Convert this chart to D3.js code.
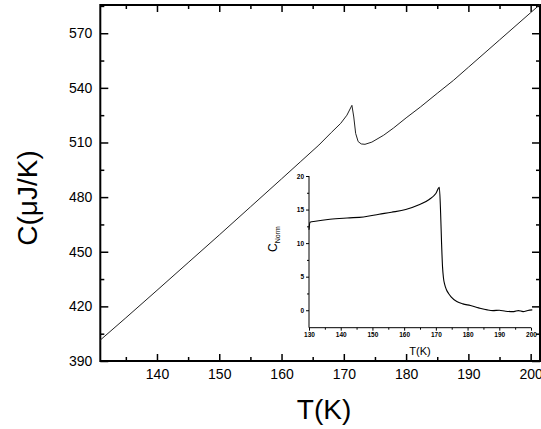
<!DOCTYPE html>
<html><head><meta charset="utf-8">
<script src="https://cdn.jsdelivr.net/npm/d3@7"></script>
<style>
body{margin:0;background:#fff;}
svg{display:block;font-family:"Liberation Sans",Arial,sans-serif;}
</style></head>
<body><svg id="c" width="541" height="429"></svg>
<script>
// Main curve: temperature (K) and heat capacity (µJ/K)
const mainT = [130.9,135,140,145,150,155,160,163,166,168,169.5,170.5,171.3,171.6,171.9,172.3,172.8,173.4,174.5,176.4,178,180,182.3,185,187.6,190,195,200,201.5];
const mainC = [401.5,413.7,428.8,444,459.2,474.6,490,499.3,508.6,515.5,520.5,525,530.4,524,515,510.5,509.2,509,510.2,514,518,523.5,529.5,537,544.1,551.3,566.3,581.3,585.8];
// Inset curve: normalised C
const insetT = [130,130.3,132,136.6,142,147.2,152.1,156,160.5,164.7,167.9,170.0,171.1,171.5,171.8,172.1,172.4,172.8,173.3,174,174.8,176.6,178.5,180.9,183.5,186.2,188,190,192,194.6,196,197.5,199,200.4];
const insetC = [12.0,13.1,13.25,13.55,13.75,13.9,14.3,14.6,15.0,15.7,16.5,17.4,18.3,14.5,10.0,6.5,4.8,3.8,3.1,2.5,2.0,1.3,0.95,0.7,0.35,0.05,-0.05,0.0,-0.15,-0.2,-0.05,-0.2,-0.05,0.05];
const xTicks = [140,150,160,170,180,190,200];
const xMinor = [135,145,155,165,175,185,195];
const yTicks = [390,420,450,480,510,540,570];
const yMinor = [405,435,465,495,525,555,585];
const insetXTicks = [130,140,150,160,170,180,190,200];
const insetXMinor = [135,145,155,165,175,185,195];
const insetYTicks = [0,5,10,15,20];
const insetYMinor = [2.5,7.5,12.5,17.5];

const svg = d3.select("#c");
const L=100.3, R=540, T=5, B=361;
const x = d3.scaleLinear().domain([130.9,201.5]).range([L,R]);
const y = d3.scaleLinear().domain([390,585.5]).range([B,T]);

function styleAxis(g){ g.select(".domain").remove(); g.selectAll("line").attr("stroke","#000").attr("stroke-width",1.5); }

// bottom
svg.append("g").attr("transform",`translate(0,${B})`)
  .call(d3.axisBottom(x).tickValues(xTicks).tickSize(-7).tickPadding(8).tickFormat(d3.format("d")))
  .call(styleAxis).selectAll("text").attr("font-size",14).attr("font-family","Liberation Sans, Arial").attr("fill","#000");
svg.append("g").attr("transform",`translate(0,${B})`)
  .call(d3.axisBottom(x).tickValues(xMinor).tickSize(-4).tickFormat(""))
  .call(styleAxis);
// top
svg.append("g").attr("transform",`translate(0,${T})`)
  .call(d3.axisTop(x).tickValues(xTicks).tickSize(-7).tickFormat(""))
  .call(styleAxis);
svg.append("g").attr("transform",`translate(0,${T})`)
  .call(d3.axisTop(x).tickValues(xMinor).tickSize(-4).tickFormat(""))
  .call(styleAxis);
// left
svg.append("g").attr("transform",`translate(${L},0)`)
  .call(d3.axisLeft(y).tickValues(yTicks).tickSize(-8).tickPadding(8).tickFormat(d3.format("d")))
  .call(styleAxis).selectAll("text").attr("font-size",14).attr("font-family","Liberation Sans, Arial").attr("fill","#000");
svg.append("g").attr("transform",`translate(${L},0)`)
  .call(d3.axisLeft(y).tickValues(yMinor).tickSize(-4).tickFormat(""))
  .call(styleAxis);
// right
svg.append("g").attr("transform",`translate(${R},0)`)
  .call(d3.axisRight(y).tickValues(yTicks).tickSize(-8).tickFormat(""))
  .call(styleAxis);
svg.append("g").attr("transform",`translate(${R},0)`)
  .call(d3.axisRight(y).tickValues(yMinor).tickSize(-4).tickFormat(""))
  .call(styleAxis);

// frame
svg.append("rect").attr("x",L).attr("y",T).attr("width",R-L).attr("height",B-T)
  .attr("fill","none").attr("stroke","#000").attr("stroke-width",2);

// main line
const mainData = mainT.map((t,i)=>[t,mainC[i]]);
svg.append("path").datum(mainData)
  .attr("d", d3.line().x(d=>x(d[0])).y(d=>y(d[1])))
  .attr("fill","none").attr("stroke","#222").attr("stroke-width",1);

// axis titles
svg.append("text").attr("x",324).attr("y",419).attr("text-anchor","middle")
  .attr("font-size",28).text("T(K)");
svg.append("text").attr("transform","translate(37,198) rotate(-90)").attr("text-anchor","middle")
  .attr("font-size",28).text("C(μJ/K)");

// inset
const iL=309, iR=531, iT=176, iB=327.7;
const ix = d3.scaleLinear().domain([130,200]).range([iL,iR]);
const iy = d3.scaleLinear().domain([-2.6,20]).range([iB,iT]);
const ig = svg.append("g");
function styleInset(g){ g.select(".domain").remove(); g.selectAll("line").attr("stroke","#000").attr("stroke-width",1); }
ig.append("g").attr("transform",`translate(0,${iB})`)
  .call(d3.axisBottom(ix).tickValues(insetXTicks).tickSize(3).tickPadding(2).tickFormat(d3.format("d")))
  .call(styleInset).selectAll("text").attr("font-size",6.5).attr("font-weight","bold").attr("font-family","Liberation Sans, Arial").attr("fill","#000");
ig.append("g").attr("transform",`translate(0,${iB})`)
  .call(d3.axisBottom(ix).tickValues(insetXMinor).tickSize(2).tickFormat(""))
  .call(styleInset);
ig.append("g").attr("transform",`translate(${iL},0)`)
  .call(d3.axisLeft(iy).tickValues(insetYTicks).tickSize(3).tickPadding(2).tickFormat(d3.format("d")))
  .call(styleInset).selectAll("text").attr("font-size",6.5).attr("font-weight","bold").attr("font-family","Liberation Sans, Arial").attr("fill","#000");
ig.append("g").attr("transform",`translate(${iL},0)`)
  .call(d3.axisLeft(iy).tickValues(insetYMinor).tickSize(2).tickFormat(""))
  .call(styleInset);
ig.append("line").attr("x1",iL).attr("x2",iR).attr("y1",iB).attr("y2",iB).attr("stroke","#000").attr("stroke-width",1);
ig.append("line").attr("x1",iL).attr("x2",iL).attr("y1",iT).attr("y2",iB).attr("stroke","#000").attr("stroke-width",1);

const insetData = insetT.map((t,i)=>[t,insetC[i]]);
ig.append("path").datum(insetData)
  .attr("d", d3.line().curve(d3.curveMonotoneX).x(d=>ix(d[0])).y(d=>iy(d[1])))
  .attr("fill","none").attr("stroke","#000").attr("stroke-width",1.1);

ig.append("text").attr("x",420).attr("y",355).attr("text-anchor","middle").attr("font-size",11).text("T(K)");
const cl = ig.append("text").attr("transform","translate(277,252) rotate(-90)").attr("text-anchor","start").attr("font-size",12);
cl.append("tspan").text("C");
cl.append("tspan").attr("font-size",7).attr("dy",3).text("Norm");
</script></body></html>
